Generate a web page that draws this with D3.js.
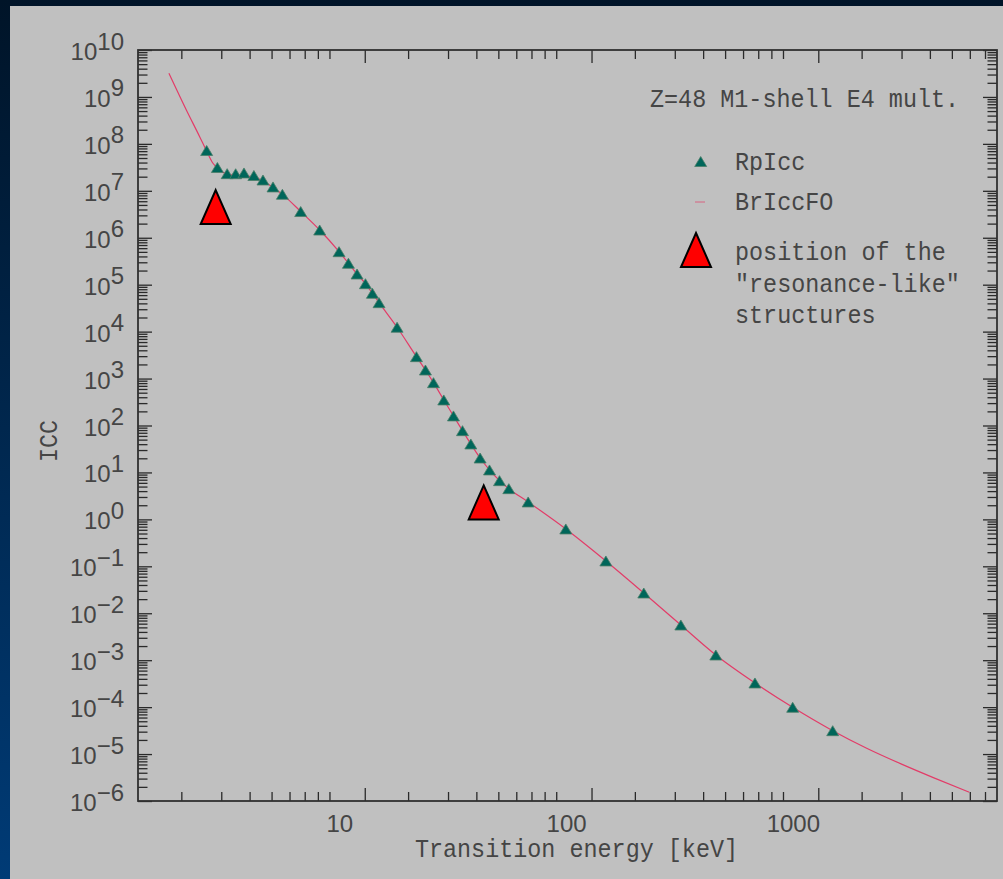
<!DOCTYPE html>
<html>
<head>
<meta charset="utf-8">
<script src="https://cdn.jsdelivr.net/npm/d3@7"></script>
<style>
  html, body { margin: 0; padding: 0; }
  body { width: 1003px; height: 879px; overflow: hidden; }
  svg { display: block; }
</style>
</head>
<body>
<svg id="chart" width="1003" height="879"></svg>
<script>
// RpIcc conversion coefficients, Z=48, M1 shell, E4 multipolarity
const rpEnergy = [2.586, 2.884, 3.185, 3.472, 3.778, 4.178, 4.582, 5.073, 5.580, 6.72,
  8.15, 9.92, 10.91, 11.91, 12.97, 13.92, 14.89, 17.88, 21.77, 23.85,
  25.88, 28.73, 31.70, 34.74, 37.81, 41.55, 45.71, 50.60, 55.61, 67.68,
  99.2, 149, 219, 319, 455, 677, 993, 1491];
const rpIcc = [7.22e7, 3.14e7, 2.32e7, 2.31e7, 2.40e7, 2.12e7, 1.70e7, 1.21e7, 8.43e6, 3.62e6,
  1.46e6, 5.05e5, 2.86e5, 1.69e5, 1.05e5, 6.56e4, 4.14e4, 1.24e4, 2.93e3, 1.52e3,
  817, 350, 160, 77.6, 40.4, 20.3, 11.3, 6.68, 4.51, 2.35,
  0.625, 0.130, 0.0270, 5.62e-3, 1.29e-3, 3.27e-4, 9.93e-5, 3.15e-5];

// BrIccFO curve
const brEnergy = [1.763, 2.104, 2.409, 2.586, 2.757, 2.951, 3.368, 3.778, 4.178, 4.582,
  5.073, 5.580, 6.72, 8.15, 9.92, 10.91, 11.91, 12.97, 13.92, 14.89,
  17.88, 21.77, 23.85, 25.88, 28.73, 31.70, 34.74, 37.81, 41.55, 45.71,
  50.60, 55.61, 67.68, 99.2, 149, 219, 319, 455, 677, 993,
  1491, 2105, 3000, 4142, 5970];
const brIcc = [3.19e9, 5.27e8, 1.42e8, 7.0e7, 3.86e7, 2.78e7, 2.15e7, 2.1e7, 1.95e7, 1.62e7,
  1.18e7, 8.4e6, 3.62e6, 1.46e6, 5.05e5, 2.86e5, 1.69e5, 1.05e5, 6.56e4, 4.14e4,
  1.24e4, 2.93e3, 1.52e3, 817, 350, 160, 77.6, 40.4, 20.3, 11.3,
  6.68, 4.51, 2.35, 0.625, 0.130, 0.0270, 5.62e-3, 1.29e-3, 3.27e-4, 9.93e-5,
  3.15e-5, 1.33e-5, 6.1e-6, 3.15e-6, 1.54e-6];

// positions of the "resonance-like" structures
const resonanceEnergy = [2.835, 43.1];
const resonanceIcc = [4.5e6, 2.3];

// axes
const xDomain = [1.288, 7907];
const yDomain = [1e-6, 1e10];
const xLabelValues = [10, 100, 1000];
const xLabelText = ["10", "100", "1000"];
const yExponents = d3.range(-6, 11);

const titleText = "Z=48 M1-shell E4 mult.";
const xTitle = "Transition energy [keV]";
const yTitle = "ICC";
const legendLabels = ["RpIcc", "BrIccFO"];
const legendNote = ["position of the", "\"resonance-like\"", "structures"];

const svg = d3.select("#chart");
const W = 1003, H = 879;
const plot = { left: 138, right: 997, top: 50, bottom: 801 };

const x = d3.scaleLog().domain(xDomain).range([plot.left, plot.right]);
const y = d3.scaleLog().domain(yDomain).range([plot.bottom, plot.top]);

// backdrop
const defs = svg.append("defs");
const grad = defs.append("linearGradient").attr("id", "bg").attr("x1", 0).attr("y1", 0).attr("x2", 0).attr("y2", 1);
grad.append("stop").attr("offset", "0%").attr("stop-color", "#001428");
grad.append("stop").attr("offset", "100%").attr("stop-color", "#003b76");
svg.append("rect").attr("width", W).attr("height", H).attr("fill", "url(#bg)");
svg.append("rect").attr("x", 10).attr("y", 6).attr("width", W - 10).attr("height", H - 6).attr("fill", "#c0c0c0");

const monoFont = "'Liberation Mono', 'DejaVu Sans Mono', monospace";
const sansFont = "'Liberation Sans', Arial, sans-serif";
const textColor = "#454545";
const monoAdvance = 14.05;

function monoText(g, str, px, py, anchor) {
  return g.append("text")
    .attr("x", px).attr("y", py)
    .attr("font-family", monoFont)
    .attr("font-size", 26)
    .attr("fill", textColor)
    .attr("text-anchor", anchor || "start")
    .attr("textLength", str.length * monoAdvance)
    .attr("lengthAdjust", "spacingAndGlyphs")
    .attr("xml:space", "preserve")
    .text(str);
}

// ticks
const xMinor = [];
for (let n = 0; n <= 3; n++) for (let m = 2; m <= 9; m++) {
  const v = m * Math.pow(10, n);
  if (v > xDomain[0] && v < xDomain[1]) xMinor.push(v);
}
const xMajor = d3.range(1, 4).map(k => xDomain[0] * Math.pow(10, k)).filter(v => v < xDomain[1]);
const yMajor = yExponents.map(e => Math.pow(10, e));
const yMinor = [];
for (let e = -6; e < 10; e++) for (let m = 2; m <= 9; m++) yMinor.push(m * Math.pow(10, e));

const tickColor = "#2a2a2a";
function tickAxis(axis, values, size, tx, ty) {
  const g = svg.append("g").attr("transform", `translate(${tx},${ty})`)
    .call(axis.tickValues(values).tickSizeInner(size).tickSizeOuter(0).tickFormat(""));
  g.select(".domain").remove();
  g.selectAll(".tick line").attr("stroke", tickColor).attr("stroke-width", 1.3);
  return g;
}
tickAxis(d3.axisBottom(x), xMinor, -9, 0, plot.bottom);
tickAxis(d3.axisBottom(x), xMajor, -13, 0, plot.bottom);
tickAxis(d3.axisTop(x), xMinor, -9, 0, plot.top);
tickAxis(d3.axisTop(x), xMajor, -13, 0, plot.top);
tickAxis(d3.axisLeft(y), yMinor, -9.5, plot.left, 0);
tickAxis(d3.axisLeft(y), yMajor, -14, plot.left, 0);
tickAxis(d3.axisRight(y), yMinor, -9.5, plot.right, 0);
tickAxis(d3.axisRight(y), yMajor, -14, plot.right, 0);

// frame
svg.append("rect")
  .attr("x", plot.left).attr("y", plot.top)
  .attr("width", plot.right - plot.left).attr("height", plot.bottom - plot.top)
  .attr("fill", "none").attr("stroke", "#303030").attr("stroke-width", 1.8);

// y tick labels: 10 with raised exponent
const yLab = svg.append("g");
yExponents.forEach(e => {
  const t = yLab.append("text")
    .attr("x", 124).attr("y", y(Math.pow(10, e)) + 10)
    .attr("text-anchor", "end")
    .attr("font-family", sansFont).attr("font-size", 24)
    .attr("fill", textColor);
  t.append("tspan").text("10");
  t.append("tspan").attr("dy", -10.5).text(e < 0 ? "\u2212" + (-e) : String(e));
});

// x tick labels
svg.append("g").selectAll("text").data(xLabelValues).join("text")
  .attr("x", d => x(d)).attr("y", 832)
  .attr("text-anchor", "middle")
  .attr("font-family", sansFont).attr("font-size", 24)
  .attr("fill", textColor)
  .text((d, i) => xLabelText[i]);

// axis titles
monoText(svg, xTitle, 576.5, 857, "middle");
monoText(svg.append("g").attr("transform", "translate(56.5,441) rotate(-90)"), yTitle, 0, 0, "middle");

// BrIccFO curve
const curveColor = "#e23c68";
const line = d3.line().x(d => x(d[0])).y(d => y(d[1])).curve(d3.curveMonotoneX);
svg.append("path")
  .datum(brEnergy.map((e, i) => [e, brIcc[i]]))
  .attr("d", line)
  .attr("fill", "none").attr("stroke", curveColor).attr("stroke-width", 1.2);

// triangle marker shape, centred on its bounding box
const tri = (w, h) => `M0,${-h / 2}L${w / 2},${h / 2}L${-w / 2},${h / 2}Z`;
const markFill = "#00665a", markStroke = "#4a7d68";

svg.append("g").selectAll("path").data(rpEnergy.map((e, i) => [e, rpIcc[i]])).join("path")
  .attr("transform", d => `translate(${x(d[0])},${y(d[1])})`)
  .attr("d", tri(12, 10))
  .attr("fill", markFill).attr("stroke", markStroke).attr("stroke-width", 0.8);

svg.append("g").selectAll("path").data(resonanceEnergy.map((e, i) => [e, resonanceIcc[i]])).join("path")
  .attr("transform", d => `translate(${x(d[0])},${y(d[1])})`)
  .attr("d", tri(30, 34))
  .attr("fill", "#ff0000").attr("stroke", "#000").attr("stroke-width", 2)
  .attr("stroke-linejoin", "miter");

// annotation and legend
monoText(svg, titleText, 650, 107);
const leg = svg.append("g");
leg.append("path").attr("transform", "translate(700.7,161.5)").attr("d", tri(12, 10))
  .attr("fill", markFill).attr("stroke", markStroke).attr("stroke-width", 0.8);
monoText(leg, legendLabels[0], 735, 170);
leg.append("line").attr("x1", 695).attr("x2", 705).attr("y1", 202).attr("y2", 202)
  .attr("stroke", curveColor).attr("stroke-width", 1).attr("stroke-opacity", 0.7);
monoText(leg, legendLabels[1], 735, 210);
leg.append("path").attr("transform", "translate(696,250)").attr("d", tri(30, 34))
  .attr("fill", "#ff0000").attr("stroke", "#000").attr("stroke-width", 2);
[260, 291.5, 323].forEach((py, i) => monoText(leg, legendNote[i], 735, py));
</script>
</body>
</html>
